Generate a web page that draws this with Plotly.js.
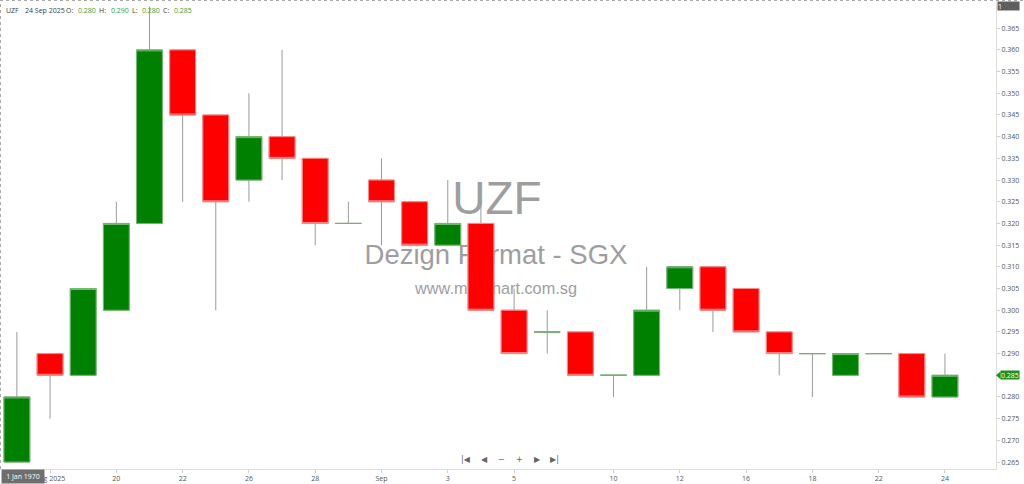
<!DOCTYPE html>
<html>
<head>
<meta charset="utf-8">
<script src="https://cdn.plot.ly/plotly-3.0.1.min.js"></script>
<style>
  html, body { margin: 0; padding: 0; background: #fff; }
  #chart { width: 1024px; height: 484px; }
</style>
</head>
<body>
<div id="chart"></div>
<script>
// daily UZF prices, 15 Aug - 24 Sep 2025
var dates = ['2025-08-15','2025-08-18','2025-08-19','2025-08-20','2025-08-21','2025-08-22',
  '2025-08-25','2025-08-26','2025-08-27','2025-08-28','2025-08-29',
  '2025-09-01','2025-09-02','2025-09-03','2025-09-04','2025-09-05',
  '2025-09-08','2025-09-09','2025-09-10','2025-09-11','2025-09-12',
  '2025-09-15','2025-09-16','2025-09-17','2025-09-18','2025-09-19',
  '2025-09-22','2025-09-23','2025-09-24'];
var openP  = [0.265,0.290,0.285,0.300,0.320,0.360,0.345,0.330,0.340,0.335,0.320,0.330,0.325,0.315,0.320,
  0.300,0.295,0.295,0.285,0.285,0.305,0.310,0.305,0.295,0.290,0.285,0.290,0.290,0.280];
var highP  = [0.295,0.290,0.305,0.325,0.370,0.360,0.345,0.350,0.360,0.335,0.325,0.335,0.325,0.330,0.325,
  0.305,0.300,0.295,0.285,0.310,0.310,0.310,0.305,0.295,0.290,0.290,0.290,0.290,0.290];
var lowP   = [0.265,0.275,0.285,0.300,0.320,0.325,0.300,0.325,0.330,0.315,0.320,0.315,0.315,0.315,0.300,
  0.290,0.290,0.285,0.280,0.285,0.300,0.295,0.295,0.285,0.280,0.285,0.290,0.280,0.280];
var closeP = [0.280,0.285,0.305,0.320,0.360,0.345,0.325,0.340,0.335,0.320,0.320,0.325,0.315,0.320,0.300,
  0.290,0.295,0.285,0.285,0.300,0.310,0.300,0.295,0.290,0.290,0.290,0.290,0.280,0.285];

var tickDates = ['2025-08-18','2025-08-20','2025-08-22','2025-08-26','2025-08-28','2025-09-01','2025-09-03',
  '2025-09-05','2025-09-10','2025-09-12','2025-09-16','2025-09-18','2025-09-22','2025-09-24'];
var tickText = ['Aug 2025','20','22','26','28','Sep','3','5','10','12','16','18','22','24'];
var yTicks = [0.265,0.270,0.275,0.280,0.285,0.290,0.295,0.300,0.305,0.310,0.315,0.320,
  0.325,0.330,0.335,0.340,0.345,0.350,0.355,0.360,0.365];

var W = 996, H = 469;   // plot area in pixels
function px(x) { return x / W; }
function py(y) { return (H - y) / H; }

// split real bodies from doji candles so the doji lines stay green
var bO = [], bH = [], bL = [], bC = [];
var dO = [], dH = [], dL = [], dC = [];
for (var i = 0; i < dates.length; i++) {
  if (openP[i] === closeP[i]) {
    bO.push(null); bH.push(null); bL.push(null); bC.push(null);
    dO.push(openP[i]); dH.push(openP[i]); dL.push(openP[i]); dC.push(closeP[i]);
  } else {
    bO.push(openP[i]); bC.push(closeP[i]);
    bH.push(Math.max(openP[i], closeP[i])); bL.push(Math.min(openP[i], closeP[i]));
    dO.push(null); dH.push(null); dL.push(null); dC.push(null);
  }
}

var watermark = {
  x: [497, 496, 496], y: [202, 257, 290],
  text: ['UZF', 'Dezign Format - SGX', 'www.minichart.com.sg'],
  mode: 'text', type: 'scatter', xaxis: 'x', yaxis: 'y',
  textposition: 'middle center',
  textfont: {family: 'Liberation Sans, Arial, sans-serif', size: [46, 27.5, 16.3], color: '#9e9e9e'},
  hoverinfo: 'skip'
};

var wicks = {
  type: 'candlestick', x: dates, open: openP, high: highP, low: lowP, close: closeP,
  xaxis: 'x2', yaxis: 'y2', hoverinfo: 'skip',
  increasing: {line: {color: '#9a9a9a', width: 1}, fillcolor: 'rgba(0,0,0,0)'},
  decreasing: {line: {color: '#9a9a9a', width: 1}, fillcolor: 'rgba(0,0,0,0)'}
};
var bodies = {
  type: 'candlestick', x: dates, open: bO, high: bH, low: bL, close: bC,
  xaxis: 'x2', yaxis: 'y2', hoverinfo: 'skip',
  increasing: {line: {color: '#72bb72', width: 1}, fillcolor: '#008000'},
  decreasing: {line: {color: '#ff8a8a', width: 1}, fillcolor: '#ff0000'}
};
var dojis = {
  type: 'candlestick', x: dates, open: dO, high: dH, low: dL, close: dC,
  xaxis: 'x2', yaxis: 'y2', hoverinfo: 'skip',
  increasing: {line: {color: '#6cb86c', width: 1}, fillcolor: '#008000'},
  decreasing: {line: {color: '#6cb86c', width: 1}, fillcolor: '#008000'}
};

var last = dates.length - 1;
var dark = '#3c3c3c', green = '#3aa33a';
var header = [
  ['UZF', 4, dark], ['24 Sep 2025', 23, dark],
  ['O:', 64, dark], [openP[last].toFixed(3), 76, green],
  ['H:', 97, dark], [highP[last].toFixed(3), 109, green],
  ['L:', 130, dark], [lowP[last].toFixed(3), 140, green],
  ['C:', 161, dark], [closeP[last].toFixed(3), 172, green]
];
var annotations = header.map(function (h) {
  return {xref: 'paper', yref: 'paper', x: px(h[1]), y: py(10.5), xanchor: 'left', yanchor: 'middle',
    text: h[0], showarrow: false, font: {size: 7, color: h[2]}};
});

var nav = [['|◀', 466], ['◀', 484], ['−', 501], ['+', 519], ['▶', 537], ['▶|', 554]];
nav.forEach(function (n) {
  annotations.push({xref: 'paper', yref: 'paper', x: px(n[1]), y: py(459), xanchor: 'center', yanchor: 'middle',
    text: n[0], showarrow: false, font: {family: 'DejaVu Sans', size: 8, color: '#666'}});
});

annotations.push({xref: 'paper', yref: 'paper', x: px(1), y: py(476.5), xanchor: 'left', yanchor: 'middle',
  text: '1 Jan 1970', showarrow: false, bgcolor: '#6e6e6e', width: 40, height: 11, borderpad: 1,
  font: {size: 7, color: '#fff'}});
annotations.push({xref: 'paper', yref: 'paper', x: px(997), y: py(6.5), xanchor: 'left', yanchor: 'middle',
  text: '1', align: 'left', showarrow: false, bgcolor: '#5e5e5e', width: 21, height: 8, borderpad: 0,
  font: {size: 7, color: '#fff'}});
annotations.push({xref: 'paper', yref: 'y2', x: px(1000), y: closeP[last], xanchor: 'left', yanchor: 'middle',
  text: closeP[last].toFixed(3), showarrow: false, bgcolor: '#1f8f1f', borderpad: 0, height: 8,
  font: {size: 7, color: '#fff'}});

var layout = {
  width: 1024, height: 484,
  margin: {l: 0, r: 28, t: 0, b: 15, pad: 0},
  paper_bgcolor: '#fff', plot_bgcolor: '#fff',
  showlegend: false,
  boxgap: 0.22, boxgroupgap: 0,
  font: {family: 'Open Sans, sans-serif', size: 7, color: '#555'},
  xaxis: {visible: false, range: [0, W], fixedrange: true},
  yaxis: {visible: false, range: [H, 0], fixedrange: true},
  xaxis2: {
    overlaying: 'x', anchor: 'y2', type: 'category', range: [-0.51, 29.54],
    tickvals: tickDates, ticktext: tickText,
    showgrid: false, zeroline: false, showline: true, linecolor: '#dedede',
    ticks: 'outside', ticklen: 3, tickcolor: '#cfcfcf',
    rangeslider: {visible: false}, tickfont: {size: 7, color: '#555'}, fixedrange: true
  },
  yaxis2: {
    overlaying: 'y', anchor: 'x2', side: 'right', range: [0.2634, 0.3715],
    tickvals: yTicks, tickformat: '.3f',
    showgrid: false, zeroline: false, showline: true, linecolor: '#dedede',
    ticks: 'outside', ticklen: 3, tickcolor: '#cfcfcf',
    tickfont: {size: 7, color: '#555'}, fixedrange: true
  },
  shapes: [
    {type: 'line', xref: 'paper', yref: 'paper', x0: 0, x1: 1.03, y0: py(0.5), y1: py(0.5),
      line: {color: '#aaa', width: 1, dash: 'dot'}},
    {type: 'line', xref: 'paper', yref: 'paper', x0: px(0.5), x1: px(0.5), y0: 0, y1: 1,
      line: {color: '#aaa', width: 1, dash: 'dot'}},
    {type: 'path', xref: 'paper', yref: 'y2', fillcolor: '#1f8f1f', line: {width: 0},
      path: 'M ' + px(996) + ' ' + closeP[last] + ' L ' + px(1000.5) + ' ' + (closeP[last] + 0.0009) +
        ' L ' + px(1000.5) + ' ' + (closeP[last] - 0.0009) + ' Z'}
  ],
  annotations: annotations
};

Plotly.newPlot('chart', [watermark, wicks, bodies, dojis], layout, {displayModeBar: false, staticPlot: true});
</script>
</body>
</html>
